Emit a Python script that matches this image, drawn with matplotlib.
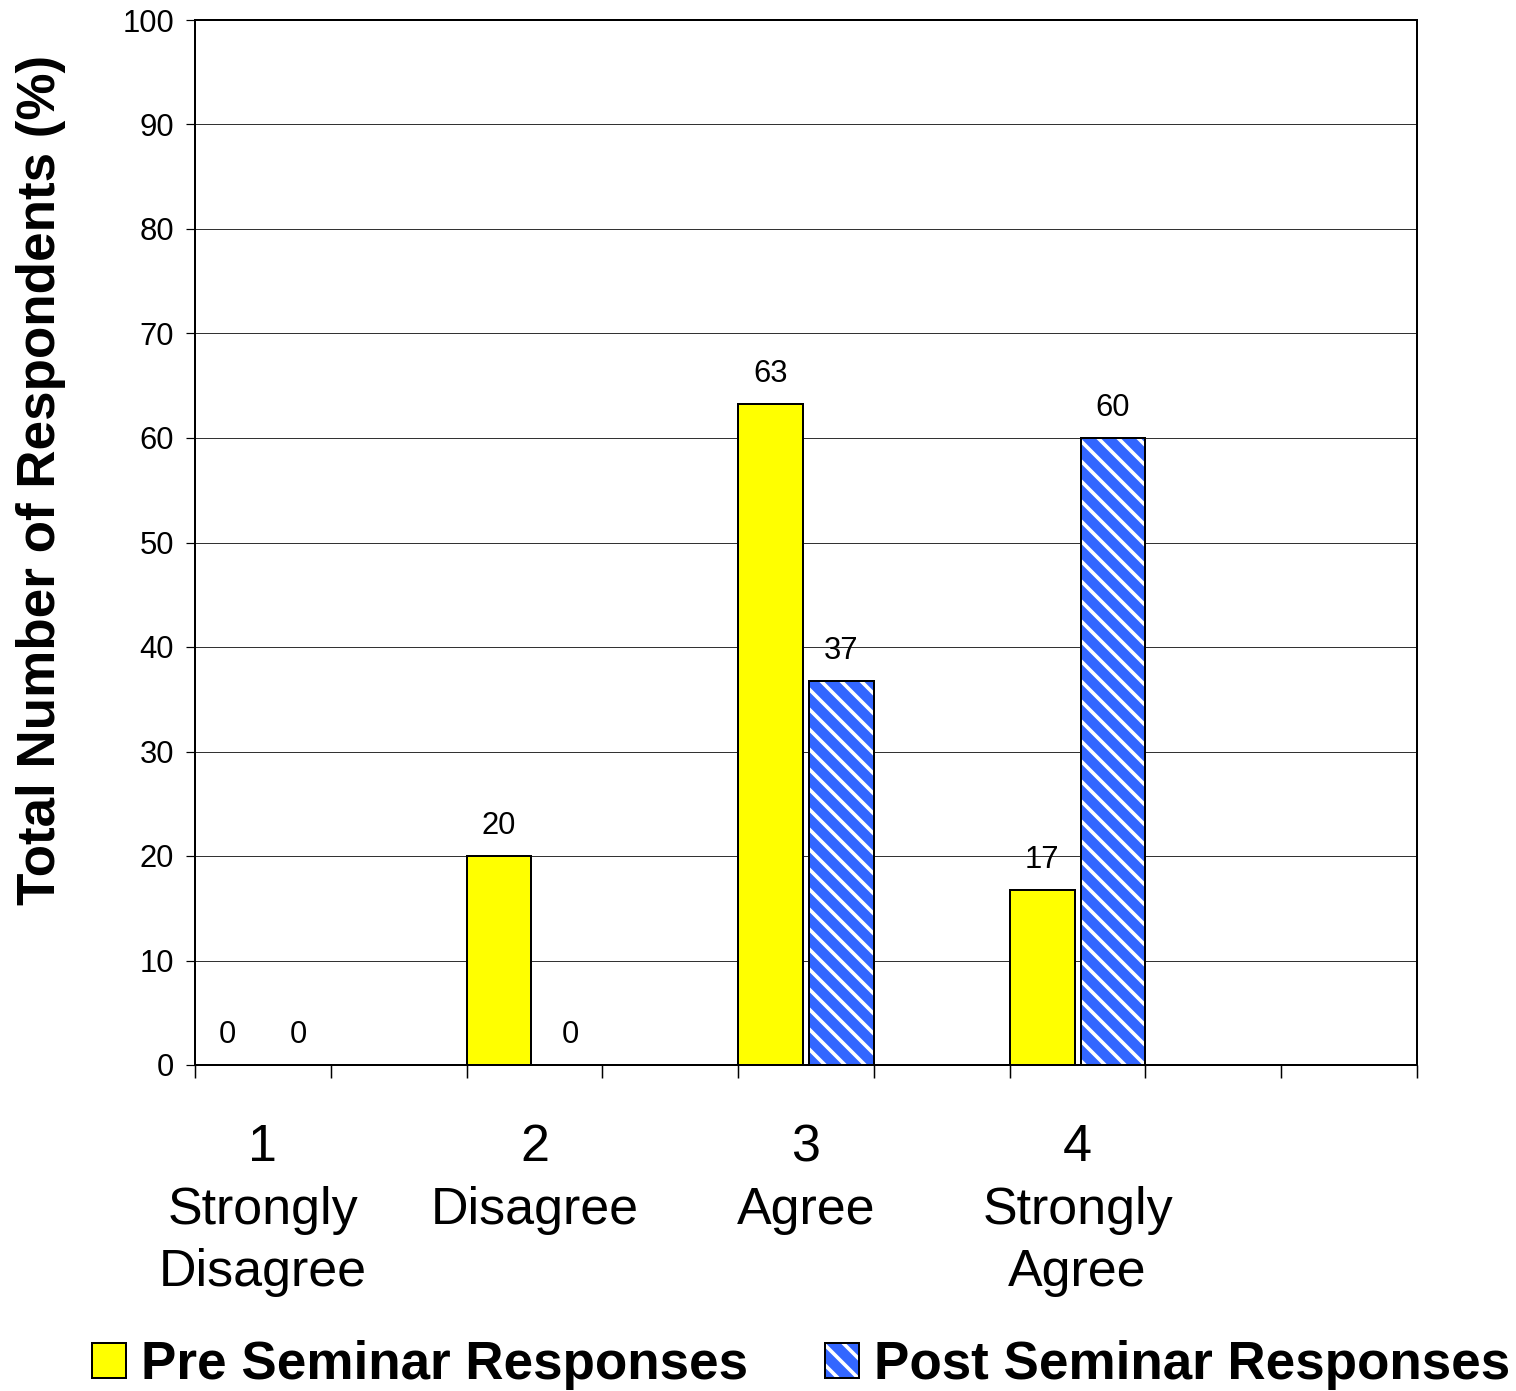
import matplotlib
matplotlib.use("Agg")
import matplotlib.pyplot as plt
from matplotlib.legend_handler import HandlerTuple
import numpy as np

categories = ["1\nStrongly\nDisagree", "2\nDisagree", "3\nAgree", "4\nStrongly\nAgree"]
pre_values = [0, 20, 63.3, 16.7]
post_values = [0, 0, 36.7, 60]
pre_labels = ["0", "20", "63", "17"]
post_labels = ["0", "0", "37", "60"]
yticks = [0, 10, 20, 30, 40, 50, 60, 70, 80, 90, 100]

DPI = 60
P = 72.0 / DPI  # points per pixel

plt.rcParams['font.family'] = ['Liberation Sans', 'DejaVu Sans']
plt.rcParams['hatch.linewidth'] = 3.6 * P

fig = plt.figure(figsize=(1516 / DPI, 1391 / DPI), dpi=DPI)
ax = fig.add_axes([195 / 1516, 1 - 1065 / 1391, (1417 - 195) / 1516, (1065 - 20) / 1391])

n = len(categories)
base = np.arange(n) * 2.0
w = 0.478
pre_x = base
post_x = base + 1.0 - w

ax.set_axisbelow(True)
ax.yaxis.grid(True, color='#000000', linewidth=0.8 * P)

pre_bars = ax.bar(pre_x, pre_values, width=w, align='edge', color='#FFFF00',
                  edgecolor='black', linewidth=2 * P, zorder=3)
post_hatch = ax.bar(post_x, post_values, width=w, align='edge', color='#3366FF',
                    edgecolor='white', linewidth=0, hatch='\\', zorder=3)
post_edge = ax.bar(post_x, post_values, width=w, align='edge', fill=False,
                   edgecolor='black', linewidth=2 * P, zorder=4)

for x, v, lab in zip(pre_x, pre_values, pre_labels):
    ax.annotate(lab, (x + w / 2, v), xytext=(0, 15 * P), textcoords='offset points',
                ha='center', va='bottom', fontsize=31 * P)
for x, v, lab in zip(post_x, post_values, post_labels):
    ax.annotate(lab, (x + w / 2, v), xytext=(0, 15 * P), textcoords='offset points',
                ha='center', va='bottom', fontsize=31 * P)

ax.set_xlim(0, 9)
ax.set_ylim(0, 100)
ax.set_yticks(yticks)
ax.tick_params(axis='y', labelsize=31 * P, length=9 * P, width=1.2 * P, pad=12 * P)
ax.set_xticks(np.arange(0, 10))
ax.set_xticklabels([])
ax.tick_params(axis='x', which='major', length=13 * P, width=1.5 * P)
ax.set_xticks(base + 0.5, minor=True)
ax.set_xticklabels(categories, minor=True, fontsize=52 * P, linespacing=1.36)
ax.tick_params(axis='x', which='minor', length=0, pad=58 * P)

for s in ax.spines.values():
    s.set_linewidth(2 * P)
    s.set_color('black')

ax.set_ylabel("Total Number of Respondents (%)", fontsize=53 * P, fontweight='bold')
ax.yaxis.set_label_coords(-0.1056, 0.5598)

handles = [pre_bars, (post_hatch, post_edge)]
fig.legend(handles, ["Pre Seminar Responses", "Post Seminar Responses"],
           loc='center', bbox_to_anchor=(801 / 1516, 1 - 1365 / 1391), ncol=2,
           frameon=False, prop={'weight': 'bold', 'size': 53 * P},
           handlelength=0.65, handleheight=0.65, handletextpad=0.28, columnspacing=1.45,
           handler_map={tuple: HandlerTuple(ndivide=1)})

fig.savefig("out.png", dpi=DPI)
